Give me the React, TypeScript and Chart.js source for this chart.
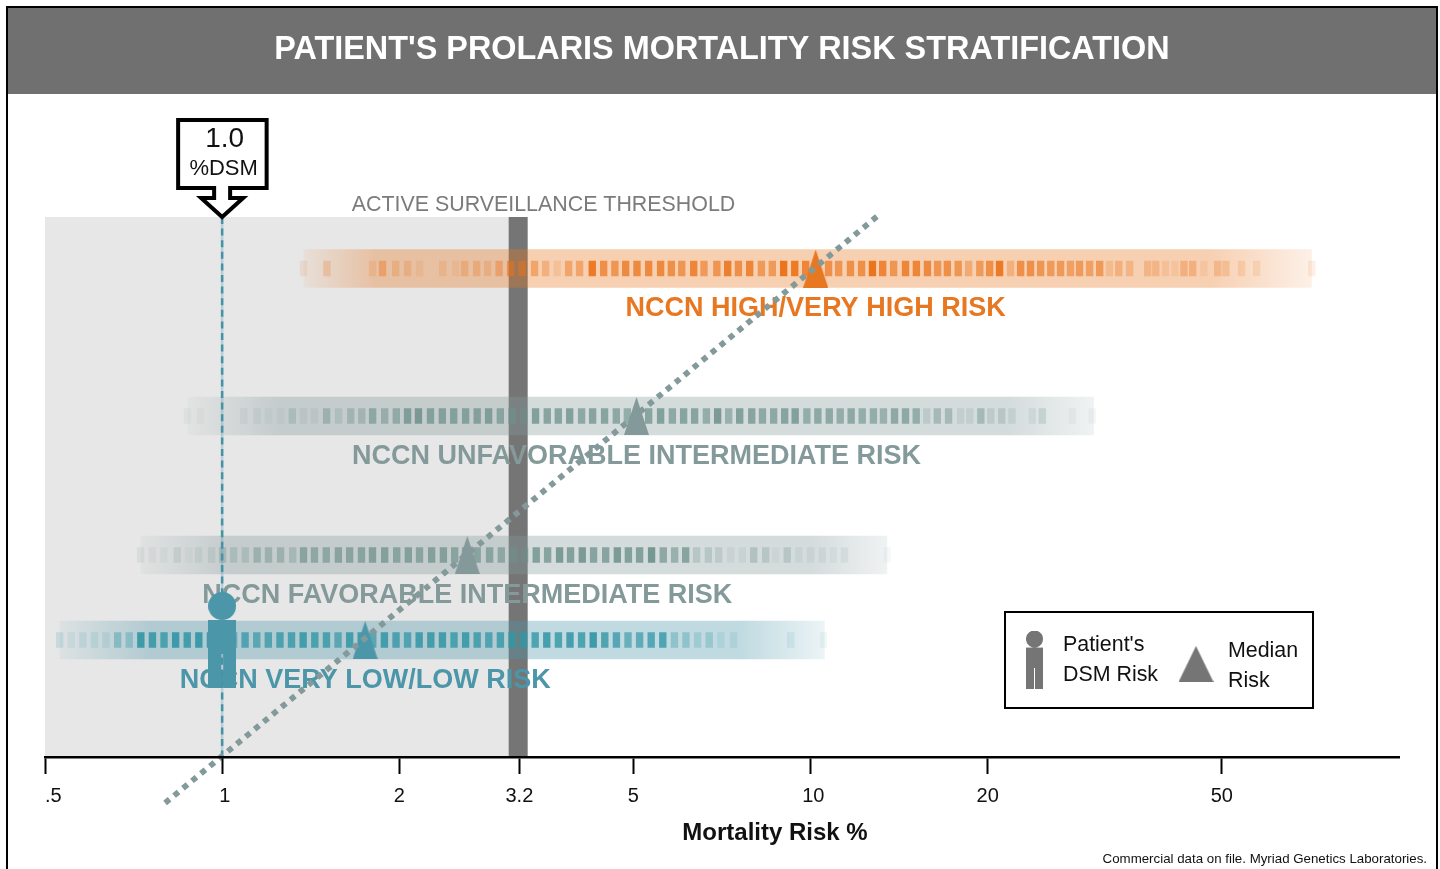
import React, { useEffect, useRef } from "react";
import { Chart, registerables } from "chart.js";

Chart.register(...registerables);

const SANS = '"Liberation Sans", Arial, sans-serif';

// ---- axis ----
const tickValues = [0.5, 1, 2, 3.2, 5, 10, 20, 50];
const tickLabels = ["\u00A0\u00A0\u00A0.5", "\u00A01", "2", "3.2", "5", "\u00A010", "20", "50"];
const xMin = 0.5;
const xMax = 100;
const surveillanceThreshold = 3.185;
const patientRisk = 1.0;

// ---- rows: lowest to highest risk ----
const rowNames = [
  "NCCN VERY LOW/LOW RISK",
  "NCCN FAVORABLE INTERMEDIATE RISK",
  "NCCN UNFAVORABLE INTERMEDIATE RISK",
  "NCCN HIGH/VERY HIGH RISK",
];
const rowHeights = [117, 202, 341, 488.5];
const medianRisk = [1.75, 2.61, 5.06, 10.2];
const rangeStart = [0.5295, 0.727, 0.873, 1.375];
const rangeEnd = [10.57, 13.5, 30.3, 71.1];
const fadeInEnd = [0.755, 1.034, 1.257, 1.823];
const fadeOutStart = [7.61, 10.0, 21.6, 47.9];
const edgeAlphaStart = [0.2, 0.2, 0.15, 0.2];
const edgeAlphaEnd = [0.3, 0.35, 0.35, 0.3];

// ---- diagonal reference line ----
const diagonalX = [0.8, 13.0];
const diagonalY = [-46, 541];

// ---- density stripes ----
const lowStripeValues = [
  0.5295, 0.5541, 0.5798, 0.6067, 0.6349, 0.6644, 0.6952, 0.7275, 0.7613, 0.7966, 0.8336, 0.8723, 0.9128, 0.9552,
  0.9995, 1.046, 1.094, 1.145, 1.198, 1.254, 1.312, 1.373, 1.437, 1.504, 1.574, 1.647, 1.723, 1.803, 1.887, 1.975,
  2.066, 2.162, 2.263, 2.368, 2.478, 2.593, 2.713, 2.839, 2.971, 3.109, 3.253, 3.404, 3.562, 3.728, 3.901, 4.082,
  4.272, 4.47, 4.678, 4.895, 5.122, 5.36, 5.609, 5.87, 6.142, 6.428, 6.726, 7.039, 7.4, 9.25, 10.52,
];
const lowStripeWeights = [
  0.15, 0.08, 0.12, 0.12, 0.12, 0.35, 0.3, 0.8, 0.75, 0.7, 0.8, 0.75, 0.8, 0.8, 0.8, 0.5, 0.65, 0.6, 0.65, 0.7, 0.7,
  0.75, 0.7, 0.7, 0.6, 0.75, 0.75, 0.6, 0.75, 0.7, 0.65, 0.75, 0.75, 0.75, 0.7, 0.75, 0.7, 0.65, 0.7, 0.7, 0.7, 0.7,
  0.75, 0.7, 0.75, 0.7, 0.8, 0.7, 0.65, 0.55, 0.6, 0.65, 0.7, 0.3, 0.3, 0.2, 0.25, 0.12, 0.12, 0.1, 0.06,
];
const favStripeValues = [
  0.727, 0.761, 0.796, 0.839, 0.877, 0.912, 0.96, 1.002, 1.046, 1.095, 1.147, 1.199, 1.257, 1.318, 1.375, 1.435, 1.503,
  1.576, 1.647, 1.725, 1.801, 1.889, 1.98, 2.072, 2.165, 2.27, 2.377, 2.484, 2.593, 2.713, 2.848, 2.982, 3.125, 3.267,
  3.418, 3.574, 3.745, 3.909, 4.093, 4.278, 4.485, 4.695, 4.902, 5.122, 5.368, 5.619, 5.875, 6.134, 6.401, 6.703,
  6.979, 7.315, 7.656, 8.005, 8.389, 8.722, 9.127, 9.548, 10.0, 10.47, 10.93, 11.42, 13.5,
];
const favStripeWeights = [
  0.1, 0.08, 0.07, 0.15, 0.05, 0.12, 0.15, 0.3, 0.25, 0.25, 0.4, 0.4, 0.4, 0.3, 0.6, 0.55, 0.55, 0.6, 0.6, 0.6, 0.65,
  0.65, 0.6, 0.65, 0.6, 0.65, 0.65, 0.6, 0.6, 0.6, 0.6, 0.55, 0.5, 0.4, 0.7, 0.65, 0.75, 0.7, 0.75, 0.65, 0.65, 0.75,
  0.7, 0.7, 0.8, 0.6, 0.5, 0.65, 0.25, 0.25, 0.2, 0.1, 0.1, 0.3, 0.25, 0.07, 0.25, 0.1, 0.1, 0.1, 0.08, 0.1, 0.05,
];
const unfStripeValues = [
  0.873, 0.919, 1.088, 1.147, 1.199, 1.257, 1.316, 1.375, 1.435, 1.505, 1.577, 1.654, 1.727, 1.802, 1.889, 1.977, 2.066,
  2.156, 2.26, 2.367, 2.475, 2.593, 2.713, 2.837, 2.97, 3.109, 3.253, 3.409, 3.569, 3.726, 3.896, 4.082, 4.262, 4.466,
  4.676, 4.882, 5.08, 5.307, 5.561, 5.823, 6.085, 6.353, 6.652, 6.951, 7.258, 7.578, 7.944, 8.284, 8.655, 9.037, 9.415,
  9.856, 10.29, 10.76, 11.23, 11.72, 12.24, 12.79, 13.3, 13.89, 14.5, 15.12, 15.75, 16.42, 17.16, 17.99, 18.64, 19.47,
  20.24, 21.12, 22.0, 23.81, 24.76, 27.85, 30.1,
];
const unfStripeWeights = [
  0.06, 0.05, 0.08, 0.1, 0.07, 0.07, 0.25, 0.12, 0.1, 0.4, 0.2, 0.35, 0.35, 0.55, 0.45, 0.5, 0.7, 0.75, 0.65, 0.65, 0.65,
  0.65, 0.65, 0.7, 0.6, 0.55, 0.45, 0.7, 0.65, 0.65, 0.7, 0.6, 0.65, 0.65, 0.6, 0.55, 0.6, 0.65, 0.7, 0.6, 0.65, 0.65,
  0.55, 0.75, 0.5, 0.7, 0.65, 0.6, 0.6, 0.65, 0.7, 0.55, 0.6, 0.6, 0.55, 0.6, 0.55, 0.55, 0.5, 0.6, 0.6, 0.55, 0.2, 0.4,
  0.4, 0.15, 0.15, 0.4, 0.2, 0.25, 0.15, 0.12, 0.2, 0.06, 0.06,
];
const highStripeValues = [
  1.375, 1.507, 1.802, 1.873, 1.972, 2.066, 2.165, 2.37, 2.494, 2.583, 2.707, 2.826, 2.956, 3.092, 3.235, 3.396, 3.546,
  3.71, 3.88, 4.05, 4.256, 4.45, 4.65, 4.85, 5.07, 5.307, 5.561, 5.8, 6.04, 6.33, 6.59, 6.93, 7.23, 7.54, 7.88, 8.25,
  8.61, 9.0, 9.4, 9.81, 10.24, 10.73, 11.16, 11.69, 12.21, 12.74, 13.26, 13.84, 14.5, 15.13, 15.8, 16.44, 17.08, 17.82,
  18.56, 19.39, 20.15, 20.95, 21.87, 22.75, 23.65, 24.6, 25.6, 26.6, 27.65, 28.65, 29.8, 31.0, 32.2, 33.4, 34.85, 37.4,
  38.6, 40.1, 41.6, 43.1, 44.6, 46.6, 49.2, 50.8, 54.0, 57.3, 71.1,
];
const highStripeWeights = [
  0.1, 0.2, 0.15, 0.35, 0.2, 0.2, 0.1, 0.15, 0.1, 0.25, 0.25, 0.2, 0.35, 0.5, 0.5, 0.4, 0.3, 0.15, 0.4, 0.4, 0.8, 0.6,
  0.55, 0.65, 0.65, 0.65, 0.65, 0.6, 0.55, 0.7, 0.5, 0.55, 0.75, 0.6, 0.7, 0.5, 0.5, 0.85, 0.8, 0.7, 0.7, 0.6, 0.55, 0.6,
  0.6, 0.85, 0.7, 0.55, 0.7, 0.7, 0.65, 0.55, 0.6, 0.55, 0.35, 0.5, 0.6, 0.8, 0.3, 0.6, 0.6, 0.55, 0.5, 0.5, 0.45, 0.5,
  0.45, 0.5, 0.2, 0.3, 0.25, 0.25, 0.25, 0.15, 0.12, 0.3, 0.3, 0.1, 0.25, 0.2, 0.15, 0.12, 0.1,
];
const stripeValues = [lowStripeValues, favStripeValues, unfStripeValues, highStripeValues];
const stripeWeights = [lowStripeWeights, favStripeWeights, unfStripeWeights, highStripeWeights];

// ---- styles ----
const rowRGB = ["76,150,169", "132,153,154", "132,153,154", "232,119,34"];
const stripeRGB = ["50,150,165", "110,145,140", "110,145,140", "235,115,25"];
const rowText = ["#4c96a9", "#84999a", "#84999a", "#e87722"];
const bandThickness = 38.5;
const stripeThickness = 15.5;
const stripeHalf = 1.0145;
const stripeStrength = 1.15;

function triangleCanvas(color: string, w: number, h: number) {
  const c = document.createElement("canvas");
  c.width = w;
  c.height = h;
  const g = c.getContext("2d")!;
  g.fillStyle = color;
  g.beginPath();
  g.moveTo(w / 2, 0);
  g.lineTo(w, h);
  g.lineTo(0, h);
  g.closePath();
  g.fill();
  return c;
}

function personCanvas(color: string) {
  const c = document.createElement("canvas");
  c.width = 28;
  c.height = 96;
  const g = c.getContext("2d")!;
  g.fillStyle = color;
  g.beginPath();
  g.arc(14, 14, 14, 0, Math.PI * 2);
  g.fill();
  g.fillRect(0, 28, 28, 68);
  g.clearRect(13, 62, 2, 34);
  return c;
}

function text(
  g: CanvasRenderingContext2D,
  s: string,
  x: number,
  y: number,
  font: string,
  color: string,
  align: CanvasTextAlign = "center"
) {
  g.font = font;
  g.fillStyle = color;
  g.textAlign = align;
  g.textBaseline = "middle";
  g.fillText(s, x, y);
}

export default function App() {
  const ref = useRef<HTMLCanvasElement | null>(null);

  useEffect(() => {
    if (!ref.current) return;
    const triangles = rowText.map((c) => triangleCanvas(c, 25, 38));
    const person = personCanvas("#4c96a9");
    const legendPerson = personCanvas("#757575");
    const legendTriangle = triangleCanvas("#757575", 35, 36);

    const bandGradient = (i: number) => (c: any) => {
      const chart = c.chart;
      if (!chart.chartArea) return `rgba(${rowRGB[i]},0.35)`;
      const s = chart.scales.x;
      const a = s.getPixelForValue(rangeStart[i]);
      const b = s.getPixelForValue(rangeEnd[i]);
      const grad = chart.ctx.createLinearGradient(a, 0, b, 0);
      const alpha = 0.35;
      grad.addColorStop(0, `rgba(${rowRGB[i]},${alpha * edgeAlphaStart[i]})`);
      grad.addColorStop((s.getPixelForValue(fadeInEnd[i]) - a) / (b - a), `rgba(${rowRGB[i]},${alpha})`);
      grad.addColorStop((s.getPixelForValue(fadeOutStart[i]) - a) / (b - a), `rgba(${rowRGB[i]},${alpha})`);
      grad.addColorStop(1, `rgba(${rowRGB[i]},${alpha * edgeAlphaEnd[i]})`);
      return grad;
    };

    const barBase = { type: "bar", indexAxis: "y", grouped: false, inflateAmount: 0, borderWidth: 0, clip: false };
    const lineBase = { type: "scatter", showLine: true, pointRadius: 0, clip: false, borderCapStyle: "butt" };

    const paintOrder: any[] = [
      {
        ...barBase,
        label: "Active surveillance zone",
        barThickness: 540,
        backgroundColor: "#e7e7e7",
        data: [{ x: [xMin, surveillanceThreshold], y: 270 }],
      },
      {
        ...lineBase,
        label: "Active surveillance threshold",
        borderColor: "#757575",
        borderWidth: 19,
        data: [
          { x: surveillanceThreshold, y: 0 },
          { x: surveillanceThreshold, y: 540 },
        ],
      },
      ...rowNames.map((name, i) => ({
        ...barBase,
        label: name + " range",
        barThickness: bandThickness,
        backgroundColor: bandGradient(i),
        data: [{ x: [rangeStart[i], rangeEnd[i]], y: rowHeights[i] }],
      })),
      ...rowNames.map((name, i) => ({
        ...barBase,
        label: name + " density",
        barThickness: stripeThickness,
        backgroundColor: stripeWeights[i].map((w) => `rgba(${stripeRGB[i]},${Math.min(1, w * stripeStrength)})`),
        data: stripeValues[i].map((v) => ({ x: [v / stripeHalf, v * stripeHalf], y: rowHeights[i] })),
      })),
      {
        type: "scatter",
        label: "Median risk",
        clip: false,
        pointRadius: 12,
        pointBorderWidth: 0,
        pointStyle: (c: any) => triangles[c.dataIndex] ?? "triangle",
        data: medianRisk.map((v, i) => ({ x: v, y: rowHeights[i] })),
      },
      {
        ...lineBase,
        label: "Patient marker guide",
        borderColor: "rgba(76,150,169,0.3)",
        borderWidth: 2.5,
        data: [
          { x: patientRisk, y: 0 },
          { x: patientRisk, y: 540 },
        ],
      },
      {
        ...lineBase,
        label: "Patient marker guide dashes",
        borderColor: "#4792a6",
        borderWidth: 2.5,
        borderDash: [7, 4.6],
        data: [
          { x: patientRisk, y: 540 },
          { x: patientRisk, y: 0 },
        ],
      },
      {
        type: "scatter",
        label: "Patient's DSM risk",
        clip: false,
        pointRadius: 14,
        pointBorderWidth: 0,
        pointStyle: (c: any) => (c.dataIndex === undefined ? "circle" : person),
        data: [{ x: patientRisk, y: rowHeights[0] }],
      },
      {
        ...lineBase,
        label: "Risk curve",
        borderColor: "#84999a",
        borderWidth: 5.8,
        borderDash: [5.8, 5.8],
        data: diagonalX.map((x, i) => ({ x, y: diagonalY[i] })),
      },
    ];
    const datasets = paintOrder.map((d, i) => ({ ...d, order: paintOrder.length - i }));

    const annotate = {
      id: "annotate",
      beforeDraw(chart: any) {
        const g = chart.ctx;
        g.save();
        g.fillStyle = "#ffffff";
        g.fillRect(0, 0, 1440, 869);
        g.fillStyle = "#707070";
        g.fillRect(7, 7, 1430, 87);
        g.strokeStyle = "#000000";
        g.lineWidth = 2;
        g.beginPath();
        g.moveTo(7, 869);
        g.lineTo(7, 7);
        g.lineTo(1437, 7);
        g.lineTo(1437, 869);
        g.stroke();
        g.restore();
      },
      beforeDatasetDraw(chart: any, args: any) {
        if (args.meta.label !== "Patient marker guide") return;
        const g = chart.ctx;
        const s = chart.scales.x;
        const yS = chart.scales.y;
        g.save();
        rowNames.forEach((name, i) => {
          text(
            g,
            name,
            s.getPixelForValue(medianRisk[i]),
            yS.getPixelForValue(rowHeights[i]) + 40.5,
            `bold 27px ${SANS}`,
            rowText[i]
          );
        });
        g.restore();
      },
      afterDatasetsDraw(chart: any) {
        const g = chart.ctx;
        const s = chart.scales.x;
        const top = chart.chartArea.top;
        const px = s.getPixelForValue(patientRisk);
        g.save();
        // call-out above the patient's value
        g.fillStyle = "#ffffff";
        g.strokeStyle = "#000000";
        g.lineWidth = 4;
        g.lineJoin = "miter";
        g.beginPath();
        g.moveTo(px - 44, top - 97);
        g.lineTo(px + 44.5, top - 97);
        g.lineTo(px + 44.5, top - 29);
        g.lineTo(px + 8, top - 29);
        g.lineTo(px + 8, top - 19);
        g.lineTo(px + 21, top - 19);
        g.lineTo(px, top);
        g.lineTo(px - 21, top - 19);
        g.lineTo(px - 8, top - 19);
        g.lineTo(px - 8, top - 29);
        g.lineTo(px - 44, top - 29);
        g.closePath();
        g.fill();
        g.stroke();
        text(g, patientRisk.toFixed(1), px + 2.5, top - 78, `28px ${SANS}`, "#111111");
        text(g, "%DSM", px + 1.5, top - 48, `22px ${SANS}`, "#111111");
        // threshold caption
        text(g, "ACTIVE SURVEILLANCE THRESHOLD", 543.5, top - 12, `21.4px ${SANS}`, "#7b7b7b");
        // legend
        g.strokeStyle = "#000000";
        g.lineWidth = 2;
        g.fillStyle = "#ffffff";
        g.fillRect(1005, 612, 308, 96);
        g.strokeRect(1005, 612, 308, 96);
        g.drawImage(legendPerson, 1026, 630.5, 17, 58.3);
        g.drawImage(legendTriangle, 1178.5, 646, 35, 36);
        const lf = `21.4px ${SANS}`;
        text(g, "Patient's", 1063, 645, lf, "#111111", "left");
        text(g, "DSM Risk", 1063, 675, lf, "#111111", "left");
        text(g, "Median", 1228, 651, lf, "#111111", "left");
        text(g, "Risk", 1228, 681, lf, "#111111", "left");
        // axis caption and footnote
        text(g, "Mortality Risk %", 775, 833.5, `bold 24px ${SANS}`, "#111111");
        text(g, "Commercial data on file. Myriad Genetics Laboratories.", 1427, 859, `13.3px ${SANS}`, "#111111", "right");
        g.restore();
      },
    };

    const chart = new Chart(ref.current, {
      type: "scatter",
      data: { datasets },
      plugins: [annotate],
      options: {
        animation: false,
        responsive: false,
        devicePixelRatio: 1,
        layout: { padding: { left: 45, right: 41, top: 8, bottom: 0 } },
        plugins: {
          legend: { display: false },
          tooltip: { enabled: false },
          title: {
            display: true,
            text: "PATIENT'S PROLARIS MORTALITY RISK STRATIFICATION",
            color: "#ffffff",
            font: { family: SANS, size: 32.4, weight: "bold", lineHeight: 1.25 },
            padding: { top: 21.5, bottom: 147 },
          },
        },
        scales: {
          x: {
            type: "logarithmic",
            min: xMin,
            max: xMax,
            offset: false,
            stacked: false,
            beginAtZero: false,
            border: { display: true, color: "#000000", width: 2.5, z: 2 },
            grid: { display: true, drawOnChartArea: false, drawTicks: true, tickLength: 17, tickColor: "#000000", tickWidth: 2, z: 2, offset: false },
            ticks: {
              autoSkip: false,
              maxRotation: 0,
              minRotation: 0,
              padding: 10,
              color: "#111111",
              font: { family: SANS, size: 20 },
              callback: (v: any) => {
                const i = tickValues.indexOf(Number(v));
                return i >= 0 ? tickLabels[i] : "";
              },
            },
            afterBuildTicks: (s: any) => {
              s.ticks = tickValues.map((value) => ({ value }));
            },
            afterFit: (s: any) => {
              s.height = 112;
              s.paddingLeft = 0;
              s.paddingRight = 0;
            },
          },
          y: {
            type: "linear",
            min: 0,
            max: 540,
            offset: false,
            display: false,
            grid: { display: false, offset: false },
          },
        },
      } as any,
    } as any);
    return () => chart.destroy();
  }, []);

  return (
    <canvas
      ref={ref}
      width={1440}
      height={869}
      style={{ position: "absolute", left: 0, top: 0, display: "block" }}
    />
  );
}
